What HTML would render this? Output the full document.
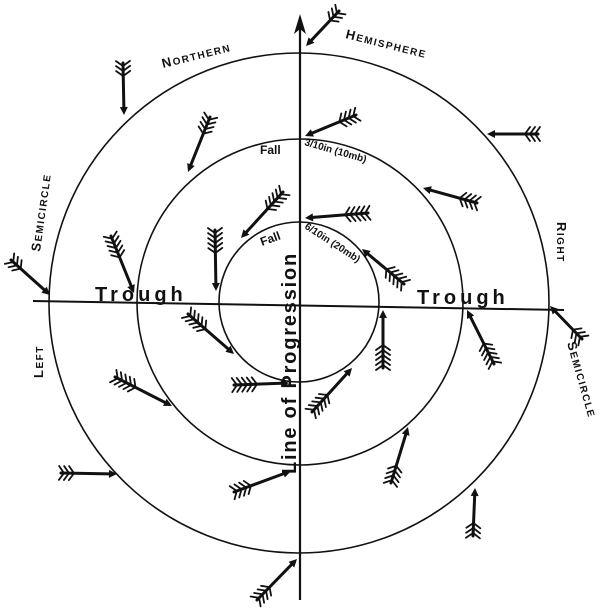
<!DOCTYPE html>
<html><head><meta charset="utf-8"><style>
html,body{margin:0;padding:0;background:#fff;}
svg{display:block;}
text{font-family:"Liberation Sans",sans-serif;fill:#111;}
</style></head><body>
<svg id="s" width="600" height="611" viewBox="0 0 600 611" xmlns="http://www.w3.org/2000/svg">
<g fill="none" stroke="#111" stroke-width="1.6">
<circle cx="299" cy="303" r="250"/>
<circle cx="300" cy="302" r="163"/>
<circle cx="299" cy="302" r="80"/>
<line x1="33" y1="301" x2="564" y2="310" stroke-width="2"/>
<line x1="300" y1="22" x2="300" y2="600" stroke-width="2.2"/>
</g>
<path d="M300 14 L294 34 L300 29 L306 34 Z" fill="#111"/>
<g id="arrows" stroke="#111" fill="none" stroke-linecap="round"></g>
<text x="0" y="0" font-size="13" font-weight="bold" letter-spacing="1.5" transform="translate(163,68) rotate(-14)">N<tspan font-size="10">ORTHERN</tspan></text>
<text x="0" y="0" font-size="13" font-weight="bold" letter-spacing="1.5" transform="translate(345,38) rotate(14)">H<tspan font-size="10">EMISPHERE</tspan></text>
<text x="0" y="0" font-size="13" font-weight="bold" letter-spacing="1.5" transform="translate(40,252) rotate(-82)">S<tspan font-size="10">EMICIRCLE</tspan></text>
<text x="0" y="0" font-size="13" font-weight="bold" letter-spacing="1.5" transform="translate(557,222) rotate(90)">R<tspan font-size="10">IGHT</tspan></text>
<text x="0" y="0" font-size="13" font-weight="bold" letter-spacing="1.5" transform="translate(43,378) rotate(-90)">L<tspan font-size="10">EFT</tspan></text>
<text x="0" y="0" font-size="13" font-weight="bold" letter-spacing="1.5" transform="translate(567,343) rotate(74)">S<tspan font-size="10">EMICIRCLE</tspan></text>
<text x="95" y="301" font-size="20" font-weight="bold" letter-spacing="4">Trough</text>
<text x="417" y="304" font-size="20" font-weight="bold" letter-spacing="4">Trough</text>
<text x="0" y="0" font-size="20" font-weight="bold" letter-spacing="1.8" transform="translate(296,474) rotate(-90)">Line of Progression</text>
<text x="260" y="154" font-size="12" font-weight="bold">Fall</text>
<text x="0" y="0" font-size="10" font-weight="bold" transform="translate(304,145) rotate(16)">3/10in (10mb)</text>
<text x="0" y="0" font-size="12" font-weight="bold" transform="translate(262,246) rotate(-20)">Fall</text>
<text x="0" y="0" font-size="10" font-weight="bold" transform="translate(304,228) rotate(33)">6/10in (20mb)</text>
</svg>
<script>
var A=[[339,11,306,46,3],[123,63,124,115,3],[210,117,188,172,4],[356,115,305,136,4],[538,134,487,134,3],[477,203,423,188,4],[368,213,305,218,5],[283,192,241,238,5],[215,230,216,291,5],[111,236,134,293,5],[11,260,50,295,3],[404,284,362,249,5],[582,339,550,306,3],[494,364,467,310,5],[383,368,383,310,5],[188,314,234,354,5],[115,377,172,406,5],[234,385,289,383,5],[312,412,352,368,5],[61,473,117,474,3],[234,492,291,471,4],[391,483,408,427,4],[473,536,475,488,3],[257,600,297,559,4]];
var g=document.getElementById('arrows'),h='';
A.forEach(function(a){var x1=a[0],y1=a[1],x2=a[2],y2=a[3],n=a[4];
var dx=x2-x1,dy=y2-y1,L=Math.sqrt(dx*dx+dy*dy),ux=dx/L,uy=dy/L,px=-uy,py=ux;
var hx=x2-ux*8,hy=y2-uy*8;
h+='<line x1="'+x1+'" y1="'+y1+'" x2="'+hx+'" y2="'+hy+'" stroke-width="3"/>';
h+='<path d="M'+x2+' '+y2+' L'+(hx+px*4)+' '+(hy+py*4)+' L'+(hx-px*4)+' '+(hy-py*4)+'Z" fill="#111" stroke="none"/>';
for(var i=0;i<n;i++){var cx=x1+ux*(3+i*5),cy=y1+uy*(3+i*5);
var bx=-ux*5,by=-uy*5;
h+='<path d="M'+(cx+bx+px*7)+' '+(cy+by+py*7)+' L'+cx+' '+cy+' L'+(cx+bx-px*7)+' '+(cy+by-py*7)+'" stroke-width="1.8"/>';}
});
g.innerHTML=h;
</script>
</body></html>
